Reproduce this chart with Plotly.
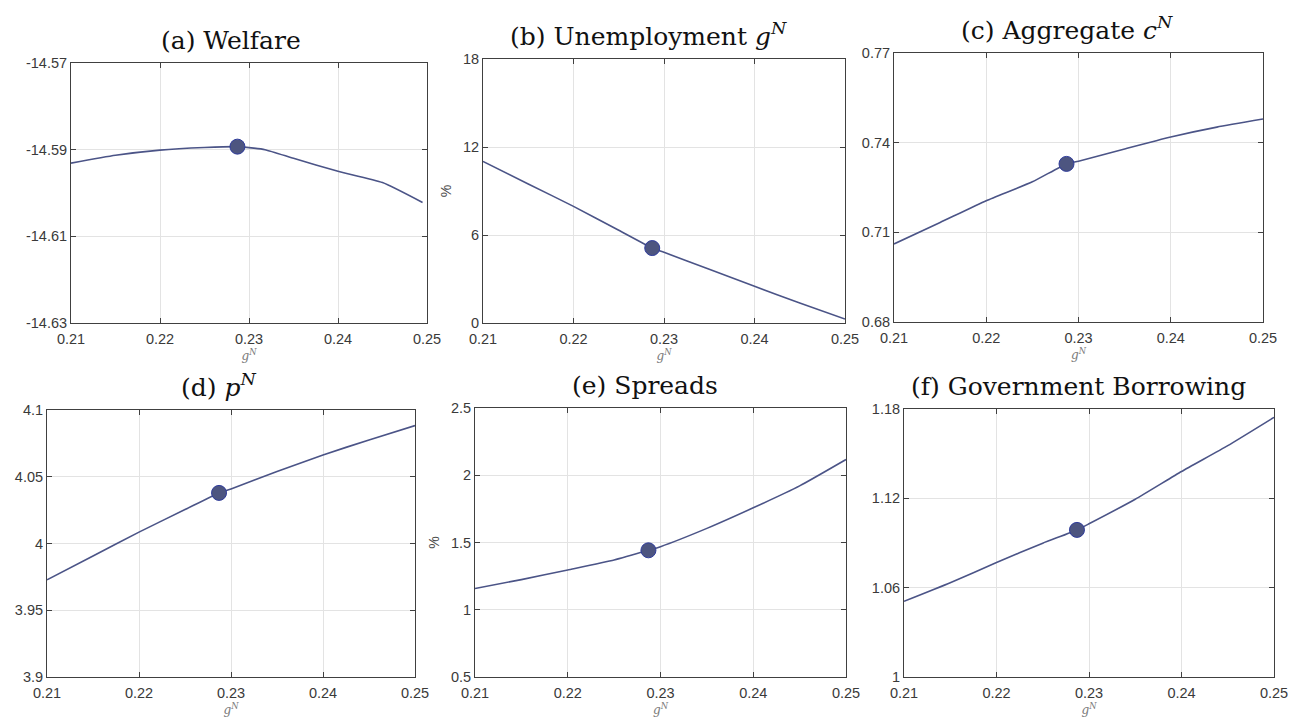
import plotly.graph_objects as go

# ---------------- data ----------------
gN = [0.21, 0.215, 0.22, 0.225, 0.2287, 0.23, 0.235, 0.24, 0.245, 0.25]
gN_welfare = [0.21, 0.215, 0.22, 0.225, 0.2287, 0.2318, 0.235, 0.24, 0.245, 0.2495]
welfare = [-14.5931, -14.5913, -14.5901, -14.5895, -14.5893, -14.5900, -14.5920, -14.5950, -14.5976, -14.6022]
unemployment = [11.02, 9.48, 7.95, 6.32, 5.11, 4.82, 3.66, 2.50, 1.36, 0.27]
consumption = [0.7061, 0.7133, 0.7206, 0.7269, 0.7329, 0.7338, 0.7379, 0.7419, 0.7452, 0.7479]
price = [3.9728, 3.9906, 4.0085, 4.0254, 4.0379, 4.0409, 4.0539, 4.0663, 4.0776, 4.0883]
spreads = [1.158, 1.224, 1.296, 1.370, 1.442, 1.469, 1.605, 1.758, 1.921, 2.117]
borrowing = [1.0508, 1.0633, 1.0769, 1.0899, 1.0988, 1.1029, 1.1194, 1.1380, 1.1554, 1.1744]

gN_opt = 0.2287
opt_values = [-14.5893, 5.11, 0.7329, 4.0379, 1.442, 1.0988]

titles = ["(a) Welfare", "(b) Unemployment <i>g<sup>N</sup></i>", "(c) Aggregate <i>c<sup>N</sup></i>",
          "(d) <i>p<sup>N</sup></i>", "(e) Spreads", "(f) Government Borrowing"]
x_ticks = [0.21, 0.22, 0.23, 0.24, 0.25]
x_ticklabels = ["0.21", "0.22", "0.23", "0.24", "0.25"]
y_ticks = [
    [-14.63, -14.61, -14.59, -14.57],
    [0, 6, 12, 18],
    [0.68, 0.71, 0.74, 0.77],
    [3.9, 3.95, 4.0, 4.05, 4.1],
    [0.5, 1.0, 1.5, 2.0, 2.5],
    [1.0, 1.06, 1.12, 1.18],
]
y_ticklabels = [
    ["-14.63", "-14.61", "-14.59", "-14.57"],
    ["0", "6", "12", "18"],
    ["0.68", "0.71", "0.74", "0.77"],
    ["3.9", "3.95", "4", "4.05", "4.1"],
    ["0.5", "1", "1.5", "2", "2.5"],
    ["1", "1.06", "1.12", "1.18"],
]
y_titles = ["", "%", "", "", "%", ""]
x_series = [gN_welfare, gN, gN, gN, gN, gN]
y_series = [welfare, unemployment, consumption, price, spreads, borrowing]

# ---------------- layout (pixels) ----------------
W, H = 1291, 719
boxes = [  # left, right, top, bottom in screen px
    (71, 427, 63, 323),
    (483, 845, 59, 323),
    (894, 1263, 53, 322),
    (47, 415, 410, 677),
    (475, 846, 408, 677),
    (904, 1274, 409, 677),
]
title_cx = [231, 648, 1067, 218, 645, 1078]

LINE = "#4b5487"
AXC = "#404040"
GRID = "#e3e3e3"

fig = go.Figure()
annotations = []
for i in range(6):
    l, r, t, b = boxes[i]
    xa = "x" if i == 0 else f"x{i+1}"
    ya = "y" if i == 0 else f"y{i+1}"
    fig.add_trace(go.Scatter(x=x_series[i], y=y_series[i], mode="lines",
                             line=dict(color=LINE, width=1.6, shape="spline", smoothing=0.5),
                             xaxis=xa, yaxis=ya, showlegend=False, hoverinfo="skip"))
    fig.add_trace(go.Scatter(x=[gN_opt], y=[opt_values[i]], mode="markers",
                             marker=dict(size=15, color="#4d5580",
                                         line=dict(color="#2f3c9c", width=1)),
                             xaxis=xa, yaxis=ya, showlegend=False, hoverinfo="skip"))
    common = dict(showline=True, linecolor=AXC, linewidth=1, mirror="ticks",
                  ticks="inside", ticklen=5, tickcolor=AXC, tickwidth=1,
                  showgrid=True, gridcolor=GRID, gridwidth=1, zeroline=False,
                  automargin=False, ticklabeloverflow="allow",
                  tickfont=dict(family="Liberation Sans, Arial", size=14.5, color="#3a3a3a"))
    xkey = "xaxis" if i == 0 else f"xaxis{i+1}"
    ykey = "yaxis" if i == 0 else f"yaxis{i+1}"
    fig.layout[xkey] = dict(domain=[l / W, r / W], anchor=ya, range=[0.21, 0.25],
                            tickvals=x_ticks, ticktext=x_ticklabels, ticklabelstandoff=3,
                            title=dict(text="<i>g<sup>N</sup></i>", standoff=2,
                                       font=dict(family="DejaVu Serif, Liberation Serif", size=12,
                                                 color="#7a7a7a")),
                            **common)
    fig.layout[ykey] = dict(domain=[1 - b / H, 1 - t / H], anchor=xa,
                            range=[y_ticks[i][0], y_ticks[i][-1]],
                            tickvals=y_ticks[i], ticktext=y_ticklabels[i],
                            title=dict(text=y_titles[i], standoff=8,
                                       font=dict(family="Liberation Sans, Arial", size=14,
                                                 color="#4a4a4a")),
                            **common)
    annotations.append(dict(text=titles[i], xref="paper", yref="paper",
                            x=title_cx[i] / W, y=1 - t / H, xanchor="center",
                            yanchor="bottom", yshift=6, showarrow=False,
                            font=dict(family="DejaVu Serif, Liberation Serif", size=25,
                                      color="#111111")))

fig.update_layout(width=W, height=H, margin=dict(l=0, r=0, t=0, b=0),
                  paper_bgcolor="white", plot_bgcolor="white",
                  annotations=annotations)
fig.write_html("out.html", config={"displayModeBar": False},
               post_script="document.body.style.margin='0';document.body.style.overflow='hidden';")
